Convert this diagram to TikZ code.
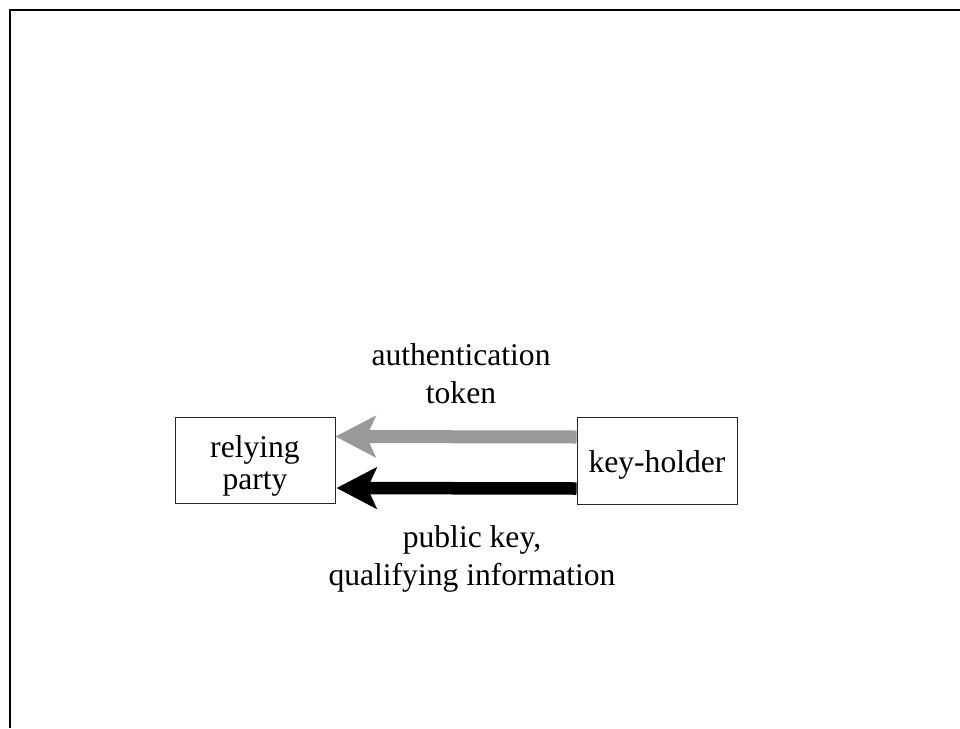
\documentclass[tikz,border=0pt]{standalone}
\usepackage{fontspec}
\setmainfont{Liberation Serif}
\usetikzlibrary{arrows.meta}
\definecolor{arrowgray}{RGB}{153,153,153}
\begin{document}
\begin{tikzpicture}[x=1pt,y=-1pt,
  party/.style={draw=black!85, line width=1pt, inner sep=0pt},
  ptext/.style={align=center, inner sep=0pt, font=\fontsize{31.6}{32}\selectfont},
  lbl/.style={align=center, inner sep=0pt, font=\fontsize{31.6}{38}\selectfont},
  flow/.style={-{Stealth[length=40pt,width=41pt,inset=9pt]}}]
\useasboundingbox (0,0) rectangle (960,728);
\draw[line width=2.6pt] (10,728) -- (10,10) -- (960,10);
\node[party, minimum width=160pt, minimum height=86pt] (rp) at (255,460) {};
\node[ptext] (rpt) at ([yshift=-6pt]rp.center) {relying\\party};
\node[party, minimum width=160pt, minimum height=87pt] (kh) at (657,460.5) {};
\node[ptext] (kht) at ([yshift=-4.5pt]kh.center) {key-holder};
\draw[flow, line width=13pt, arrowgray] ([yshift=23.5pt]kh.west) -- ([yshift=23.5pt]rp.east);
\draw[flow, line width=12.5pt, black] ([yshift=-28pt]kh.west) -- ([xshift=1pt,yshift=-28pt]rp.east);
\node[lbl] (auth) at (461,373.5) {authentication\\token};
\node[lbl] (pub) at (472,558.5) {public key,\\qualifying information};
\end{tikzpicture}
\end{document}
